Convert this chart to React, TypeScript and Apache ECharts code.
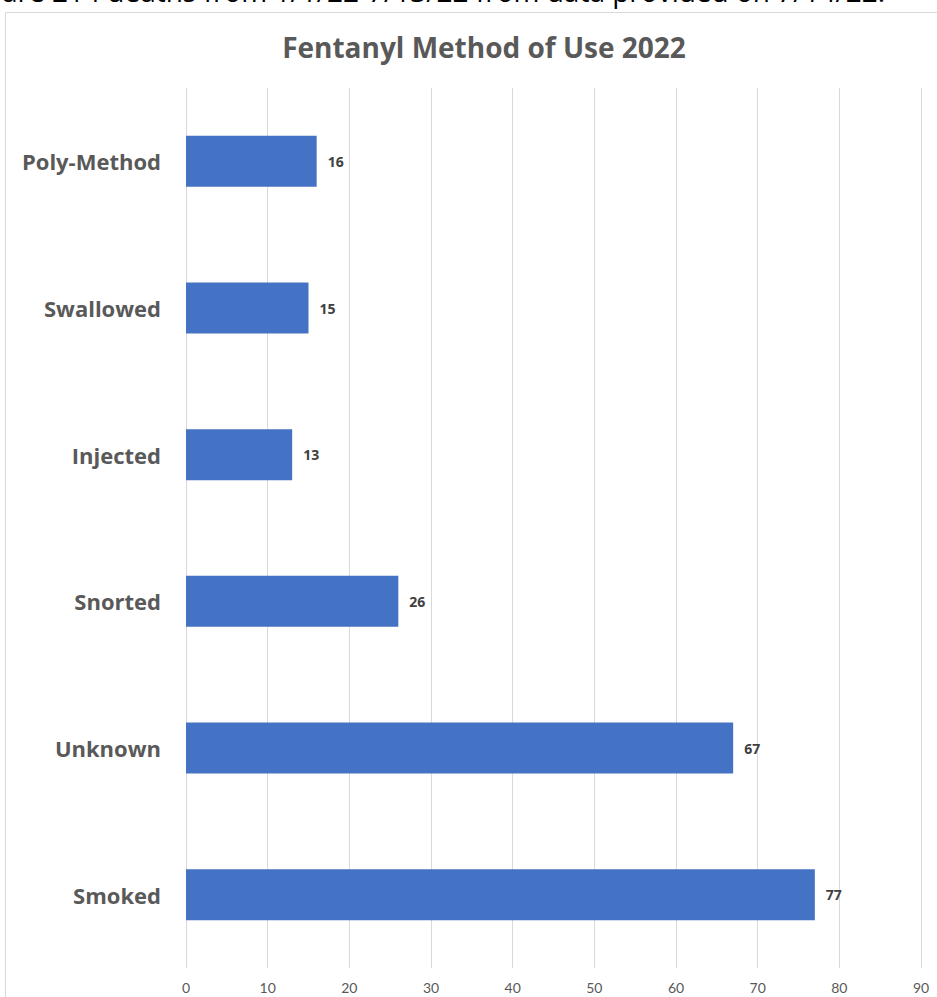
import React, { useEffect, useRef } from "react";
import * as echarts from "echarts";

const categories = ["Smoked", "Unknown", "Snorted", "Injected", "Swallowed", "Poly-Method"];
const values = [77, 67, 26, 13, 15, 16];
const title = "Fentanyl Method of Use 2022";
const headerText = "are 214 deaths from 1/1/22-7/13/22 from data provided on 7/14/22.";

export default function App() {
  const ref = useRef<HTMLDivElement>(null);
  useEffect(() => {
    if (!ref.current) return;
    const chart = echarts.init(ref.current, null, { renderer: "svg" });
    chart.setOption({
      animation: false,
      backgroundColor: "#ffffff",
      title: {
        text: title,
        left: 479,
        textAlign: "center",
        top: 28,
        textStyle: { fontFamily: "Open Sans", fontWeight: "bold", fontSize: 28, color: "#595959" },
      },
      graphic: [
        {
          type: "rect",
          shape: { x: 5.5, y: 12.5, width: 1000, height: 1100 },
          style: { fill: "none", stroke: "#d9d9d9", lineWidth: 1 },
          silent: true,
        },
        {
          type: "text",
          x: 2,
          y: -23,
          style: { text: headerText, fontFamily: "Open Sans", fontSize: 28, fill: "#000000" },
          silent: true,
        },
      ],
      grid: { left: 186, right: 16, top: 88, bottom: 29, containLabel: false },
      xAxis: {
        type: "value",
        min: 0,
        max: 90,
        interval: 10,
        axisLine: { show: false },
        axisTick: { show: false },
        splitLine: { show: true, lineStyle: { color: "#d9d9d9", width: 1 } },
        axisLabel: { color: "#595959", fontSize: 14, fontFamily: "Lato", margin: 12 },
      },
      yAxis: {
        type: "category",
        data: categories,
        axisLine: { show: false },
        axisTick: { show: false },
        axisLabel: { color: "#595959", fontSize: 22, fontWeight: "bold", fontFamily: "Open Sans", margin: 25 },
      },
      series: [
        {
          type: "bar",
          data: values,
          barWidth: 51,
          itemStyle: { color: "#4472C4" },
          label: {
            show: true,
            position: "right",
            distance: 11,
            color: "#404040",
            fontSize: 14,
            fontWeight: "bold",
            fontFamily: "Open Sans",
          },
        },
      ],
    });
    return () => chart.dispose();
  }, []);
  return (
    <div
      ref={ref}
      style={{ position: "absolute", left: 0, top: 0, width: 937, height: 997 }}
    />
  );
}
